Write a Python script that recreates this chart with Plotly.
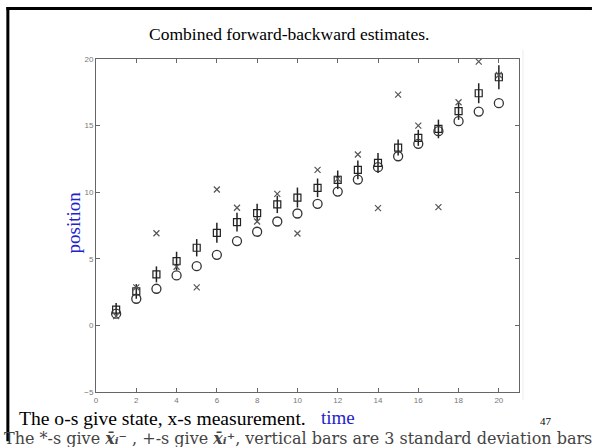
import plotly.graph_objects as go

# time steps
t = list(range(1, 21))
# true state (o markers)
state = [0.88, 2.0, 2.75, 3.75, 4.45, 5.3, 6.33, 7.03, 7.8, 8.4,
         9.13, 10.05, 10.95, 11.88, 12.7, 13.63, 14.58, 15.33, 16.05, 16.68]
# noisy measurements (x markers)
meas = [0.7, 2.85, 6.92, 4.4, 2.85, 10.2, 8.83, 7.8, 9.88, 6.9,
        11.68, 11.0, 12.83, 8.8, 17.33, 15.0, 8.88, 16.75, 19.8, 18.8]
# combined forward-backward estimates (squares)
est = [1.18, 2.55, 3.83, 4.83, 5.83, 6.95, 7.75, 8.43, 9.08, 9.6,
       10.33, 10.93, 11.68, 12.2, 13.35, 14.08, 14.75, 16.08, 17.43, 18.63]
# 3-sigma half lengths of the vertical bars
bar3s = [0.5, 0.55, 0.6, 0.7, 0.65, 0.75, 0.7, 0.7, 0.65, 0.75,
         0.7, 0.7, 0.7, 0.75, 0.6, 0.6, 0.7, 0.65, 0.75, 0.9]

xticks = list(range(0, 21, 2))
yticks = [-5, 0, 5, 10, 15, 20]

W, H = 592, 447
L, R, T, B = 95.7, 519.0, 59.0, 391.7


def px(x):
    return (x - L) / (R - L)


def py(y):
    return (B - y) / (B - T)


fig = go.Figure()
fig.add_trace(go.Scatter(
    x=t, y=est, mode="markers",
    marker=dict(symbol="square-open", size=7, color="#222", line=dict(width=1.2)),
    error_y=dict(type="data", array=bar3s, visible=True, width=0,
                 thickness=1.5, color="#222"),
    showlegend=False))
fig.add_trace(go.Scatter(
    x=t, y=state, mode="markers",
    marker=dict(symbol="circle-open", size=9, color="#333", line=dict(width=1.3)),
    showlegend=False))
fig.add_trace(go.Scatter(
    x=t, y=meas, mode="markers",
    marker=dict(symbol="x-thin-open", size=6, color="#555", line=dict(width=1.2)),
    showlegend=False))

axis_common = dict(showline=True, mirror="ticks", linecolor="#666", linewidth=1,
                   ticks="inside", ticklen=4, tickcolor="#666", showgrid=False,
                   zeroline=False,
                   tickfont=dict(family="Liberation Sans", size=8, color="#777"))
fig.update_xaxes(range=[0, 21], tickvals=xticks, **axis_common)
fig.update_yaxes(range=[-5, 20], tickvals=yticks, **axis_common)

serif = "Liberation Serif"
annotations = [
    dict(text="Combined forward-backward estimates.", x=px(289), y=py(34),
         font=dict(family=serif, size=17.5, color="black")),
    dict(text="position", x=px(73), y=py(222), textangle=-90,
         font=dict(family=serif, size=19, color="#2222cc")),
    dict(text="The o-s give state, x-s measurement.", x=px(17), y=py(418),
         xanchor="left", font=dict(family=serif, size=19.6, color="black")),
    dict(text="time", x=px(338), y=py(417),
         font=dict(family=serif, size=19, color="#2222cc")),
    dict(text="47", x=px(546), y=py(421), borderpad=0,
         font=dict(family=serif, size=11, color="black")),
    dict(text="The *-s give <b><i>x̄ᵢ⁻</i></b> , +-s give <b><i>x̄ᵢ⁺</i></b>, "
              "vertical bars are 3 standard deviation bars",
         x=px(3), y=py(449), xanchor="left", yanchor="bottom", borderpad=0,
         font=dict(family="DejaVu Serif", size=16, color="#444")),
]
for a in annotations:
    a.update(xref="paper", yref="paper", showarrow=False)
    a.setdefault("xanchor", "center")
    a.setdefault("yanchor", "middle")
fig.update_layout(annotations=annotations)

# slide frame (left and top rules) and faint figure edge
shapes = [
    dict(type="line", x0=px(7.5), x1=px(7.5), y0=py(7), y1=py(441),
         line=dict(color="black", width=3)),
    dict(type="line", x0=px(6), x1=px(592), y0=py(8.5), y1=py(8.5),
         line=dict(color="black", width=3)),
    dict(type="line", x0=px(523), x1=px(523), y0=py(50), y1=py(400),
         line=dict(color="#ececec", width=1)),
]
for s in shapes:
    s.update(xref="paper", yref="paper", layer="below")
fig.update_layout(shapes=shapes)

fig.update_layout(width=W, height=H, paper_bgcolor="white", plot_bgcolor="white",
                  margin=dict(l=L, r=W - R, t=T, b=H - B, pad=0))
fig.write_html("out.html")
